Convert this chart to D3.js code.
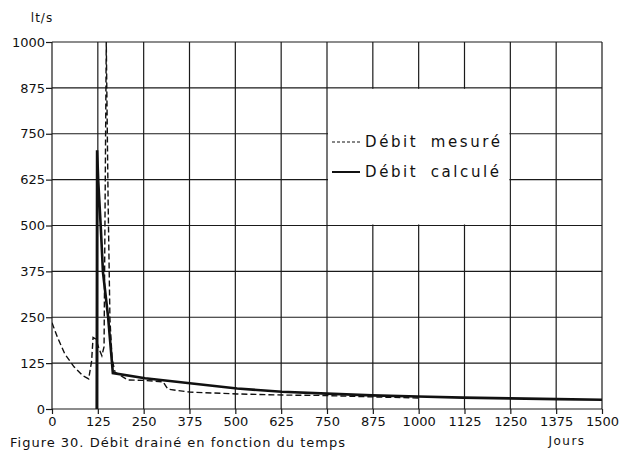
<!DOCTYPE html>
<html>
<head>
<meta charset="utf-8">
<script src="https://cdn.jsdelivr.net/npm/d3@7"></script>
<style>
  body { margin: 0; background: #fff; }
  text { font-family: "DejaVu Sans", sans-serif; fill: #111; }
</style>
</head>
<body>
<div id="chart-area"></div>
<script>
var margin = { left: 52, right: 18, top: 42, bottom: 41 };
var width = 620 - margin.left - margin.right;
var height = 450 - margin.top - margin.bottom;

// data (days, lt/s)
var tickValues = [0, 125, 250, 375, 500, 625, 750, 875, 1000, 1125, 1250, 1375, 1500];
var yTickValues = [0, 125, 250, 375, 500, 625, 750, 875, 1000];

var mesureDays = [0, 15, 35, 60, 85, 100, 108, 112, 120, 128, 136, 142, 148, 153, 158, 164, 172, 194, 207, 250, 303, 316, 376, 505, 630, 730, 875, 1000];
var mesureVals = [235, 195, 150, 115, 90, 82, 130, 195, 190, 165, 145, 170, 1000, 570, 245, 135, 100, 87, 79, 78, 74, 54, 46, 41, 38, 37, 33, 30];

var calculeDays = [122, 123, 126, 133, 139, 153, 166, 254, 376, 505, 627, 750, 873, 998, 1121, 1249, 1377, 1500];
var calculeVals = [0, 705, 624, 496, 373, 251, 98, 84, 70, 56, 47, 42, 37, 34, 31, 29, 27, 25];

var legendLabels = ['Débit mesuré', 'Débit calculé'];

var svg = d3.select('#chart-area')
  .append('svg')
  .attr('width', 620)
  .attr('height', 450);

var g = svg.append('g')
  .attr('transform', 'translate(' + margin.left + ', ' + margin.top + ')');

var x = d3.scaleLinear().domain([0, 1500]).range([0, width]);
var y = d3.scaleLinear().domain([0, 1000]).range([height, 0]);

svg.append('clipPath').attr('id', 'plot-clip')
  .append('rect')
    .attr('width', width)
    .attr('height', height);

// Grid
g.selectAll('.vgrid')
  .data(tickValues)
  .enter().append('line')
    .attr('x1', function(d) { return x(d); })
    .attr('x2', function(d) { return x(d); })
    .attr('y1', 0)
    .attr('y2', height)
    .attr('stroke', '#1a1a1a')
    .attr('stroke-width', 1.2);

g.selectAll('.hgrid')
  .data(yTickValues)
  .enter().append('line')
    .attr('x1', 0)
    .attr('x2', width)
    .attr('y1', function(d) { return y(d); })
    .attr('y2', function(d) { return y(d); })
    .attr('stroke', '#1a1a1a')
    .attr('stroke-width', 1.2);

// Axes
var xAxis = g.append('g')
  .attr('transform', 'translate(0, ' + height + ')')
  .call(d3.axisBottom(x).tickValues(tickValues).tickSize(5).tickPadding(3).tickFormat(d3.format('d')));

var yAxis = g.append('g')
  .call(d3.axisLeft(y).tickValues(yTickValues).tickSize(6).tickPadding(1).tickFormat(d3.format('d')));

[xAxis, yAxis].forEach(function(a) {
  a.select('.domain').remove();
  a.selectAll('line').attr('stroke', '#1a1a1a').attr('stroke-width', 1.2);
  a.selectAll('text').attr('font-size', '13px').attr('font-family', '"DejaVu Sans", sans-serif').attr('fill', '#111');
});

// Lines
var line = d3.line()
  .x(function(d) { return x(d[0]); })
  .y(function(d) { return y(d[1]); });

var plot = g.append('g').attr('clip-path', 'url(#plot-clip)');

plot.append('path')
  .datum(d3.zip(mesureDays, mesureVals))
  .attr('fill', 'none')
  .attr('stroke', '#111')
  .attr('stroke-width', 1.4)
  .attr('stroke-dasharray', '6,3')
  .attr('d', line);

plot.append('path')
  .datum(d3.zip(calculeDays, calculeVals))
  .attr('fill', 'none')
  .attr('stroke', '#111')
  .attr('stroke-width', 2.6)
  .attr('d', line);

// Legend (white box over the grid)
var legend = g.append('g');
legend.append('rect')
  .attr('x', x(750) + 1)
  .attr('y', y(875) + 1)
  .attr('width', x(1250) - x(750) - 2)
  .attr('height', y(500) - y(875) - 2)
  .attr('fill', '#fff');

legend.selectAll('.lg-line')
  .data(legendLabels)
  .enter().append('line')
    .attr('x1', x(750) + 5)
    .attr('x2', x(750) + 33)
    .attr('y1', function(d, i) { return 100 + i * 30; })
    .attr('y2', function(d, i) { return 100 + i * 30; })
    .attr('stroke', '#111')
    .attr('stroke-width', function(d, i) { return i ? 2 : 1.2; })
    .attr('stroke-dasharray', function(d, i) { return i ? null : '3,2'; });

legend.selectAll('.lg-text')
  .data(legendLabels)
  .enter().append('text')
    .attr('x', x(750) + 38)
    .attr('y', function(d, i) { return 105 + i * 30; })
    .attr('font-size', '15px')
    .attr('letter-spacing', '2.6px')
    .attr('word-spacing', '5px')
    .text(function(d) { return d; });

// Unit labels
svg.append('text')
  .attr('x', 42)
  .attr('y', 22)
  .attr('text-anchor', 'middle')
  .attr('font-size', '12px')
  .attr('letter-spacing', '1px')
  .text('lt/s');

svg.append('text')
  .attr('x', 567)
  .attr('y', 445)
  .attr('text-anchor', 'middle')
  .attr('font-size', '12px')
  .attr('letter-spacing', '1.5px')
  .text('Jours');

// Caption
svg.append('text')
  .attr('x', 10)
  .attr('y', 447)
  .attr('font-size', '13px')
  .attr('letter-spacing', '1px')
  .text('Figure 30. Débit drainé en fonction du temps');
</script>
</body>
</html>
